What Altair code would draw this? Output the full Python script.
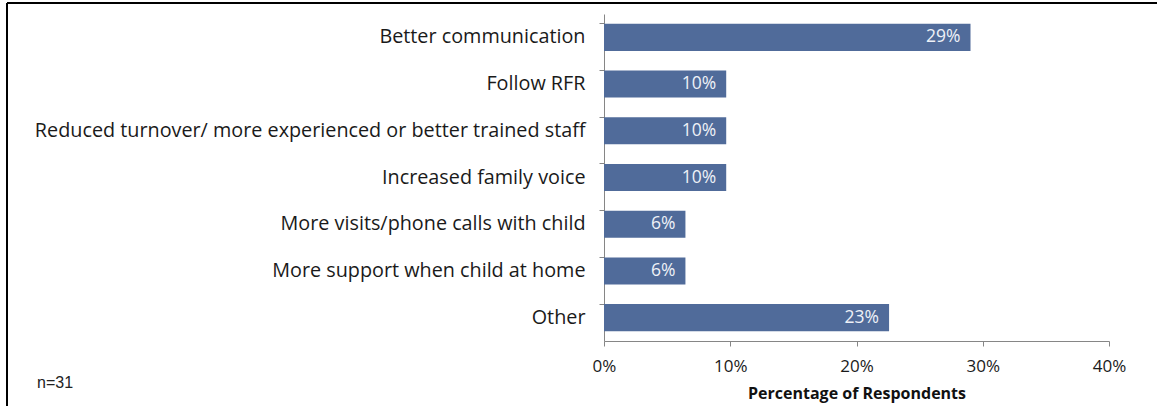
import altair as alt
import pandas as pd

categories = [
    "Better communication",
    "Follow RFR",
    "Reduced turnover/ more experienced or better trained staff",
    "Increased family voice",
    "More visits/phone calls with child",
    "More support when child at home",
    "Other",
]
values = [0.2903, 0.0968, 0.0968, 0.0968, 0.0645, 0.0645, 0.2258]
bar_labels = ["29%", "10%", "10%", "10%", "6%", "6%", "23%"]
x_ticks = [0, 0.1, 0.2, 0.3, 0.4]
note = ["n=31"]

df = pd.DataFrame({"cat": categories, "val": values, "lab": bar_labels})

W, H = 505, 327
PL, PT = 604, 14
FONT = "Open Sans"

y_enc = alt.Y(
    "cat:N",
    sort=categories,
    title=None,
    scale=alt.Scale(paddingInner=0.42, paddingOuter=0.21),
    axis=alt.Axis(
        labelFont=FONT, labelFontSize=19.8, labelColor="#1a1a1a",
        labelPadding=14, tickSize=5, tickColor="#868686",
        domainColor="#868686", bandPosition=0, labelLimit=700,
    ),
)
x_enc = alt.X(
    "val:Q",
    title="Percentage of Respondents",
    scale=alt.Scale(domain=[0, 0.4], nice=False),
    axis=alt.Axis(
        values=x_ticks, format=".0%", grid=False, labelFlush=False,
        labelFont=FONT, labelFontSize=17, labelColor="#1a1a1a", labelPadding=12,
        tickSize=5, tickColor="#868686", domainColor="#868686",
        titleFont=FONT, titleFontSize=16, titleFontWeight="bold",
        titleColor="#111111", titlePadding=11,
    ),
)

bars = alt.Chart(df).mark_bar(color="#506b9a").encode(x=x_enc, y=y_enc)
texts = alt.Chart(df).mark_text(
    align="right", baseline="middle", dx=-10, color="#eef1f7",
    font=FONT, fontSize=17.5,
).encode(x="val:Q", y=alt.Y("cat:N", sort=categories), text="lab:N")

note_df = pd.DataFrame({"t": note})
note_layer = alt.Chart(note_df).mark_text(
    align="left", baseline="middle", font="Liberation Sans", fontSize=16, color="#222222",
).encode(x=alt.value(37 - PL), y=alt.value(383 - PT), text="t:N")

border_top = alt.Chart(note_df).mark_rule(color="#000000", strokeWidth=2).encode(
    x=alt.value(7 - PL), x2=alt.value(1157 - PL), y=alt.value(3 - PT)
)
border_left = alt.Chart(note_df).mark_rule(color="#000000", strokeWidth=2).encode(
    x=alt.value(7 - PL), y=alt.value(3 - PT), y2=alt.value(406 - PT)
)

chart = alt.layer(bars, texts, note_layer, border_top, border_left).properties(
    width=W, height=H,
    autosize=alt.AutoSizeParams(type="none"),
    padding={"left": PL, "top": PT, "right": 1157 - PL - W, "bottom": 406 - PT - H},
    background="white",
).configure_view(stroke=None)

chart.save("out.html", embed_options={"renderer": "svg", "actions": False})
